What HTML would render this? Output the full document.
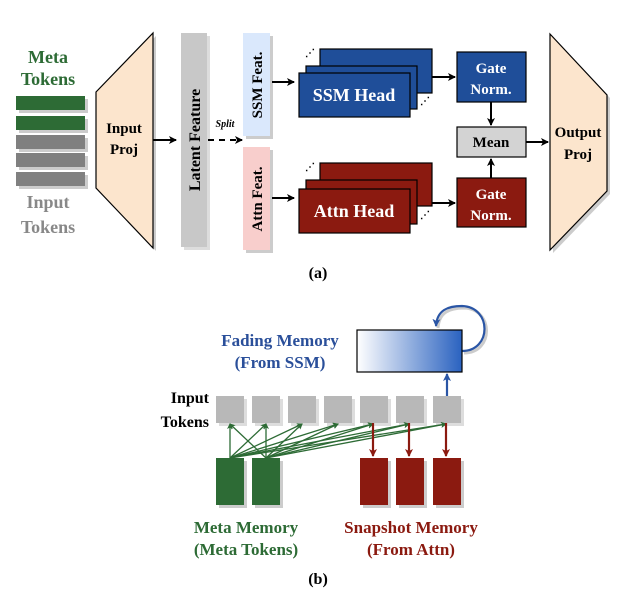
<!DOCTYPE html>
<html><head><meta charset="utf-8"><style>
html,body{margin:0;padding:0;background:#fff}
svg{display:block}
text{font-family:"Liberation Serif",serif;font-weight:bold}
</style></head><body>
<svg width="636" height="604" viewBox="0 0 636 604" xmlns="http://www.w3.org/2000/svg">
<defs>
<marker id="ak" markerWidth="8" markerHeight="8" refX="7" refY="4" orient="auto" markerUnits="userSpaceOnUse"><path d="M0,0 L8,4 L0,8 L2,4z" fill="#000"/></marker>
<marker id="ab" markerWidth="8" markerHeight="8" refX="7" refY="4" orient="auto" markerUnits="userSpaceOnUse"><path d="M0,0 L8,4 L0,8 L2,4z" fill="#2a55a5"/></marker>
<marker id="ar" markerWidth="8" markerHeight="8" refX="7" refY="4" orient="auto" markerUnits="userSpaceOnUse"><path d="M0,0 L8,4 L0,8 L2,4z" fill="#8b1a10"/></marker>
<marker id="ag" markerWidth="6" markerHeight="6" refX="5" refY="3" orient="auto" markerUnits="userSpaceOnUse"><path d="M0,0 L6,3 L0,6 L1.5,3z" fill="#2d6b35"/></marker>
<linearGradient id="fg" x1="0" x2="1" y1="0" y2="0"><stop offset="0" stop-color="#fff"/><stop offset="1" stop-color="#2a62c0"/></linearGradient>
</defs>

<text x="48" y="63" font-size="18" fill="#2d6b35" text-anchor="middle">Meta</text>
<text x="48" y="85" font-size="18" fill="#2d6b35" text-anchor="middle">Tokens</text>
<g>
<rect x="19" y="99" width="69" height="14" fill="#ccc"/><rect x="16" y="96" width="69" height="14" fill="#2d6b35"/>
<rect x="19" y="119" width="69" height="14" fill="#ccc"/><rect x="16" y="116" width="69" height="14" fill="#2d6b35"/>
<rect x="19" y="138" width="69" height="14" fill="#ccc"/><rect x="16" y="135" width="69" height="14" fill="#808080"/>
<rect x="19" y="156" width="69" height="14" fill="#ccc"/><rect x="16" y="153" width="69" height="14" fill="#808080"/>
<rect x="19" y="175" width="69" height="14" fill="#ccc"/><rect x="16" y="172" width="69" height="14" fill="#808080"/>
</g>
<text x="48" y="208" font-size="18" fill="#888" text-anchor="middle">Input</text>
<text x="48" y="233" font-size="18" fill="#888" text-anchor="middle">Tokens</text>

<polygon points="99,95 156,36 156,251 99,191" fill="#ccc"/>
<polygon points="96,92 153,33 153,248 96,188" fill="#fce5cd" stroke="#000" stroke-width="1.2"/>
<text x="124" y="133" font-size="15" text-anchor="middle">Input</text>
<text x="124" y="154" font-size="15" text-anchor="middle">Proj</text>
<line x1="153" y1="140" x2="176" y2="140" stroke="#000" stroke-width="2" marker-end="url(#ak)"/>

<rect x="184" y="36" width="26" height="214" fill="#ddd"/>
<rect x="181" y="33" width="26" height="214" fill="#c8c8c8"/>
<text transform="translate(200,140) rotate(-90)" font-size="16" text-anchor="middle">Latent Feature</text>
<line x1="208" y1="140" x2="242" y2="140" stroke="#000" stroke-width="2" stroke-dasharray="6,5" marker-end="url(#ak)"/>
<text x="225" y="127" font-size="10" font-style="italic" text-anchor="middle">Split</text>

<rect x="246" y="36" width="27" height="103" fill="#ccc"/>
<rect x="243" y="33" width="27" height="103" fill="#dae8fc"/>
<text transform="translate(262,85) rotate(-90)" font-size="15" text-anchor="middle">SSM Feat.</text>
<rect x="246" y="150" width="27" height="103" fill="#ccc"/>
<rect x="243" y="147" width="27" height="103" fill="#f8cecc"/>
<text transform="translate(262,199) rotate(-90)" font-size="15" text-anchor="middle">Attn Feat.</text>
<line x1="272" y1="82" x2="294" y2="82" stroke="#000" stroke-width="2" marker-end="url(#ak)"/>
<line x1="272" y1="198" x2="294" y2="198" stroke="#000" stroke-width="2" marker-end="url(#ak)"/>

<g stroke="#000" stroke-width="1.2" fill="#1f4e99">
<rect x="320" y="49" width="112" height="44"/>
<rect x="306" y="66" width="111" height="43"/>
<rect x="299" y="73" width="111" height="44"/>
</g>
<text x="305" y="56" font-size="10">⋰</text>
<text x="420" y="104" font-size="10">⋰</text>
<text x="354" y="101" font-size="18" fill="#fff" text-anchor="middle">SSM Head</text>
<g stroke="#000" stroke-width="1.2" fill="#8b1a10">
<rect x="320" y="163" width="112" height="43"/>
<rect x="306" y="180" width="111" height="44"/>
<rect x="299" y="189" width="111" height="44"/>
</g>
<text x="305" y="170" font-size="10">⋰</text>
<text x="420" y="218" font-size="10">⋰</text>
<text x="354" y="217" font-size="18" fill="#fff" text-anchor="middle">Attn Head</text>

<line x1="432" y1="77" x2="455" y2="77" stroke="#000" stroke-width="2" marker-end="url(#ak)"/>
<line x1="432" y1="203" x2="455" y2="203" stroke="#000" stroke-width="2" marker-end="url(#ak)"/>

<rect x="457" y="52" width="69" height="50" fill="#1f4e99" stroke="#000" stroke-width="1.2"/>
<text x="491" y="73" font-size="15" fill="#fff" text-anchor="middle">Gate</text>
<text x="491" y="94" font-size="15" fill="#fff" text-anchor="middle">Norm.</text>
<rect x="457" y="127" width="69" height="30" fill="#d3d3d3" stroke="#000" stroke-width="1.2"/>
<text x="491" y="147" font-size="15" text-anchor="middle">Mean</text>
<rect x="457" y="178" width="69" height="49" fill="#8b1a10" stroke="#000" stroke-width="1.2"/>
<text x="491" y="199" font-size="15" fill="#fff" text-anchor="middle">Gate</text>
<text x="491" y="220" font-size="15" fill="#fff" text-anchor="middle">Norm.</text>
<line x1="491" y1="102" x2="491" y2="125" stroke="#000" stroke-width="2" marker-end="url(#ak)"/>
<line x1="491" y1="178" x2="491" y2="159" stroke="#000" stroke-width="2" marker-end="url(#ak)"/>
<line x1="526" y1="142" x2="548" y2="142" stroke="#000" stroke-width="2" marker-end="url(#ak)"/>

<polygon points="553,37 610,98 610,194 553,253" fill="#ccc"/>
<polygon points="550,34 607,95 607,191 550,250" fill="#fce5cd" stroke="#000" stroke-width="1.2"/>
<text x="578" y="137" font-size="15" text-anchor="middle">Output</text>
<text x="578" y="159" font-size="15" text-anchor="middle">Proj</text>

<text x="318" y="278" font-size="16" text-anchor="middle">(a)</text>

<text x="280" y="346" font-size="17" fill="#2a4f9a" text-anchor="middle">Fading Memory</text>
<text x="280" y="368" font-size="17" fill="#2a4f9a" text-anchor="middle">(From SSM)</text>
<path d="M462,351 C492,351 492,307 462,306 C448,306 437,310 436,326" fill="none" stroke="#ccc" stroke-width="3" transform="translate(2,2)"/>
<path d="M462,351 C492,351 492,307 462,306 C448,306 437,310 436,326" fill="none" stroke="#2a55a5" stroke-width="2.2" marker-end="url(#ab)"/>
<rect x="357" y="330" width="105" height="42" fill="url(#fg)" stroke="#000" stroke-width="1.2"/>

<text x="209" y="403" font-size="16" text-anchor="end">Input</text>
<text x="209" y="427" font-size="16" text-anchor="end">Tokens</text>
<g>
<rect x="219" y="399" width="28" height="27" fill="#ddd"/><rect x="216" y="396" width="28" height="27" fill="#b8b8b8"/>
<rect x="255" y="399" width="28" height="27" fill="#ddd"/><rect x="252" y="396" width="28" height="27" fill="#b8b8b8"/>
<rect x="291" y="399" width="28" height="27" fill="#ddd"/><rect x="288" y="396" width="28" height="27" fill="#b8b8b8"/>
<rect x="327" y="399" width="28" height="27" fill="#ddd"/><rect x="324" y="396" width="28" height="27" fill="#b8b8b8"/>
<rect x="363" y="399" width="28" height="27" fill="#ddd"/><rect x="360" y="396" width="28" height="27" fill="#b8b8b8"/>
<rect x="399" y="399" width="28" height="27" fill="#ddd"/><rect x="396" y="396" width="28" height="27" fill="#b8b8b8"/>
<rect x="436" y="399" width="28" height="27" fill="#ddd"/><rect x="433" y="396" width="28" height="27" fill="#b8b8b8"/>
</g>
<line x1="447" y1="396" x2="447" y2="374" stroke="#2a55a5" stroke-width="2.2" marker-end="url(#ab)"/>

<g>
<rect x="219" y="461" width="28" height="47" fill="#ccc"/><rect x="216" y="458" width="28" height="47" fill="#2d6b35"/>
<rect x="255" y="461" width="28" height="47" fill="#ccc"/><rect x="252" y="458" width="28" height="47" fill="#2d6b35"/>
<rect x="363" y="461" width="28" height="47" fill="#ccc"/><rect x="360" y="458" width="28" height="47" fill="#8b1a10"/>
<rect x="399" y="461" width="28" height="47" fill="#ccc"/><rect x="396" y="458" width="28" height="47" fill="#8b1a10"/>
<rect x="436" y="461" width="28" height="47" fill="#ccc"/><rect x="433" y="458" width="28" height="47" fill="#8b1a10"/>
</g>
<g stroke="#2d6b35" stroke-width="1.3" marker-end="url(#ag)">
<line x1="230" y1="458" x2="230" y2="424"/><line x1="230" y1="458" x2="266" y2="424"/><line x1="230" y1="458" x2="302" y2="424"/><line x1="230" y1="458" x2="338" y2="424"/><line x1="230" y1="458" x2="373" y2="424"/><line x1="230" y1="458" x2="409" y2="424"/><line x1="230" y1="458" x2="446" y2="424"/>
<line x1="266" y1="458" x2="230" y2="424"/><line x1="266" y1="458" x2="266" y2="424"/><line x1="266" y1="458" x2="302" y2="424"/><line x1="266" y1="458" x2="338" y2="424"/><line x1="266" y1="458" x2="373" y2="424"/><line x1="266" y1="458" x2="409" y2="424"/><line x1="266" y1="458" x2="446" y2="424"/>
</g>
<g stroke="#8b1a10" stroke-width="2.2" marker-end="url(#ar)">
<line x1="373" y1="423" x2="373" y2="456"/><line x1="409" y1="423" x2="409" y2="456"/><line x1="446" y1="423" x2="446" y2="456"/>
</g>
<text x="246" y="533" font-size="17" fill="#2d6b35" text-anchor="middle">Meta Memory</text>
<text x="246" y="555" font-size="17" fill="#2d6b35" text-anchor="middle">(Meta Tokens)</text>
<text x="411" y="533" font-size="17" fill="#8b1a10" text-anchor="middle">Snapshot Memory</text>
<text x="411" y="555" font-size="17" fill="#8b1a10" text-anchor="middle">(From Attn)</text>
<text x="318" y="584" font-size="16" text-anchor="middle">(b)</text>
</svg>
</body></html>
